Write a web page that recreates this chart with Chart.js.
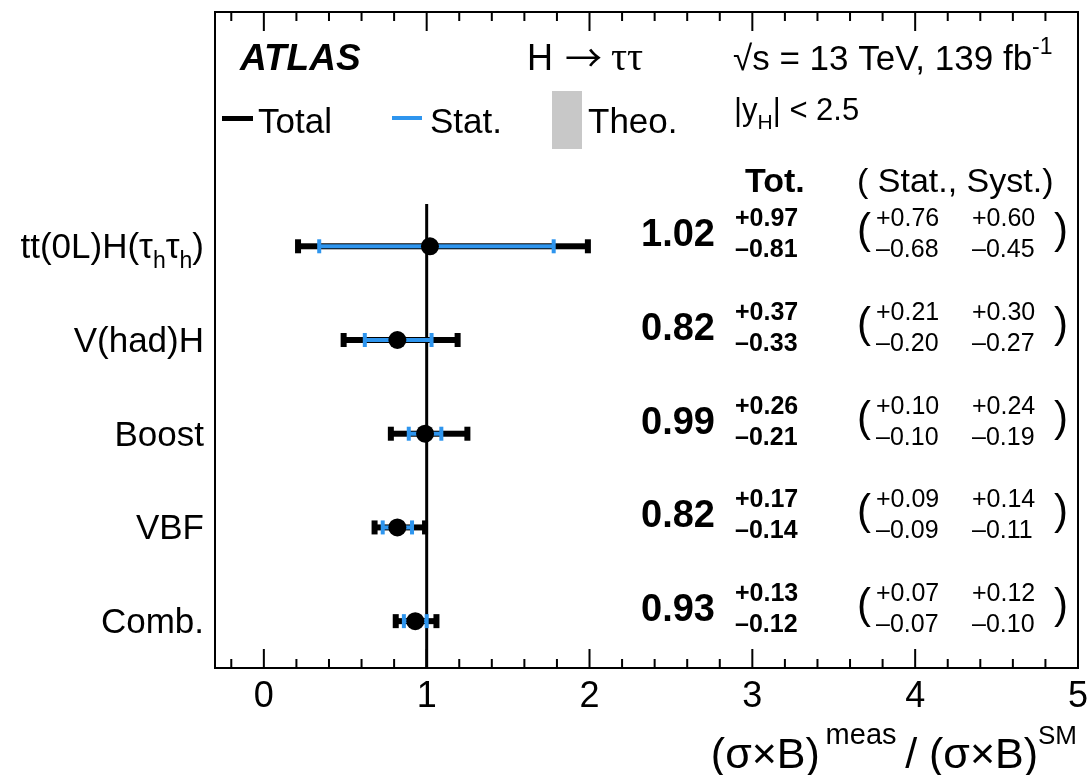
<!DOCTYPE html>
<html>
<head>
<meta charset="utf-8">
<script src="https://cdn.jsdelivr.net/npm/chart.js@4.4.1/dist/chart.umd.min.js"></script>
<style>
  html, body { margin: 0; padding: 0; background: #fff; }
  #c { display: block; }
</style>
</head>
<body>
<canvas id="c" width="1089" height="775"></canvas>
<script>
// Data (top row first)
const categories = ['tt(0L)H(τhτh)', 'V(had)H', 'Boost', 'VBF', 'Comb.'];
const rowPos = [4.5, 3.5, 2.5, 1.5, 0.5];
const central = [1.02, 0.82, 0.99, 0.82, 0.93];
const totUp = [0.97, 0.37, 0.26, 0.17, 0.13];
const totDn = [0.81, 0.33, 0.21, 0.14, 0.12];
const statUp = [0.76, 0.21, 0.10, 0.09, 0.07];
const statDn = [0.68, 0.20, 0.10, 0.09, 0.07];
const systUp = [0.60, 0.30, 0.24, 0.14, 0.12];
const systDn = [0.45, 0.27, 0.19, 0.11, 0.10];
const xTicks = [0, 1, 2, 3, 4, 5];

const FONT = '"Liberation Sans", Arial, Helvetica, sans-serif';
const BLUE = '#2e95ee';

// text made of pieces: [text, mode, family, size] mode 0 normal, 1 subscript, 2 superscript
function rich(ctx, segs, x, y, size, align, style, supRaise) {
  style = style || '';
  const pieces = segs.map(s => {
    const mode = s[1] || 0;
    const sz = s[3] || (mode ? Math.round(size * 0.67) : size);
    const f = style + ' ' + sz + 'px ' + (s[2] || FONT);
    ctx.font = f;
    return { t: s[0], f: f, w: ctx.measureText(s[0]).width,
             dy: mode === 1 ? size * 0.28 : mode === 2 ? -size * (supRaise || 0.45) : 0 };
  });
  const total = pieces.reduce((a, p) => a + p.w, 0);
  let cx = align === 'right' ? x - total : align === 'center' ? x - total / 2 : x;
  ctx.textAlign = 'left';
  ctx.textBaseline = 'alphabetic';
  pieces.forEach(p => {
    ctx.font = p.f;
    ctx.fillText(p.t, cx, y + p.dy);
    cx += p.w;
  });
  return total;
}

function txt(ctx, s, x, y, font, align) {
  ctx.font = font;
  ctx.textAlign = align || 'left';
  ctx.textBaseline = 'alphabetic';
  ctx.fillText(s, x, y);
}

const atlasPlugin = {
  id: 'atlas',
  beforeDatasetsDraw(chart) {
    const ctx = chart.ctx;
    const xs = chart.scales.x, ys = chart.scales.y;
    ctx.save();
    // SM reference line
    ctx.strokeStyle = '#000';
    ctx.lineWidth = 3;
    ctx.beginPath();
    ctx.moveTo(xs.getPixelForValue(1), ys.getPixelForValue(0));
    ctx.lineTo(xs.getPixelForValue(1), ys.getPixelForValue(4.95));
    ctx.stroke();

    // error bars: total (black) then stat (blue)
    central.forEach((c, i) => {
      const y = ys.getPixelForValue(rowPos[i]);
      const bars = [
        { lo: c - totDn[i], hi: c + totUp[i], col: '#000', lw: 6, capW: 6, capH: 14 },
        { lo: c - statDn[i], hi: c + statUp[i], col: BLUE, lw: 4, capW: 4, capH: 14 }
      ];
      bars.forEach(b => {
        const x0 = xs.getPixelForValue(b.lo), x1 = xs.getPixelForValue(b.hi);
        ctx.fillStyle = b.col;
        ctx.fillRect(x0, y - b.lw / 2, x1 - x0, b.lw);
        ctx.fillRect(x0 - b.capW / 2, y - b.capH / 2, b.capW, b.capH);
        ctx.fillRect(x1 - b.capW / 2, y - b.capH / 2, b.capW, b.capH);
      });
    });
    ctx.restore();
  },
  afterDraw(chart) {
    const ctx = chart.ctx;
    const a = chart.chartArea;
    const xs = chart.scales.x, ys = chart.scales.y;
    ctx.save();
    ctx.fillStyle = '#000';
    ctx.strokeStyle = '#000';

    // frame
    ctx.lineWidth = 2;
    ctx.strokeRect(a.left, a.top, a.right - a.left, a.bottom - a.top);

    // inward ticks on top and bottom
    for (let k = -1; k <= 24; k++) {
      const v = k * 0.2;
      const px = xs.getPixelForValue(v);
      if (px <= a.left || px >= a.right) continue;
      const len = k % 5 === 0 ? 19 : 9;
      ctx.beginPath();
      ctx.moveTo(px, a.bottom);
      ctx.lineTo(px, a.bottom - len);
      ctx.moveTo(px, a.top);
      ctx.lineTo(px, a.top + len);
      ctx.stroke();
    }

    // header
    txt(ctx, 'ATLAS', 240, 70, 'italic bold 37px ' + FONT);
    txt(ctx, 'H', 527, 70, '36px ' + FONT);
    txt(ctx, '\u2192', 565, 72, '37px "Noto Sans CJK SC", "DejaVu Sans", sans-serif');
    txt(ctx, 'ττ', 611, 70, '40px "Liberation Serif", serif');
    rich(ctx, [['√s = 13 TeV, 139 fb', 0], ['-1', 2]], 733, 70, 35, 'left');

    // legend
    ctx.fillRect(222, 116, 31, 5);
    txt(ctx, 'Total', 258, 133, '35px ' + FONT);
    ctx.fillStyle = BLUE;
    ctx.fillRect(392, 116, 30, 4);
    ctx.fillStyle = '#c8c8c8';
    ctx.fillRect(552, 91, 30, 58);
    ctx.fillStyle = '#000';
    txt(ctx, 'Stat.', 430, 133, '35px ' + FONT);
    txt(ctx, 'Theo.', 588, 133, '35px ' + FONT);
    rich(ctx, [['|y', 0], ['H', 1], ['| < 2.5', 0]], 734, 120, 31, 'left');

    txt(ctx, 'Tot.', 745, 192, 'bold 34px ' + FONT);
    txt(ctx, '( Stat., Syst.)', 857, 192, '34px ' + FONT);

    // category labels
    categories.forEach((name, i) => {
      const y = ys.getPixelForValue(rowPos[i]) + 12;
      if (name.indexOf('τ') >= 0) {
        rich(ctx, [['tt(0L)H(τ', 0], ['h', 1], ['τ', 0], ['h', 1], [')', 0]], 204, y, 35, 'right');
      } else {
        txt(ctx, name, 204, y, '35px ' + FONT, 'right');
      }
    });

    // numbers
    central.forEach((c, i) => {
      const y = ys.getPixelForValue(rowPos[i]);
      txt(ctx, c.toFixed(2), 641, y, 'bold 38px ' + FONT);
      txt(ctx, '+' + totUp[i].toFixed(2), 735, y - 20, 'bold 25px ' + FONT);
      txt(ctx, '\u2013' + totDn[i].toFixed(2), 735, y + 11, 'bold 25px ' + FONT);
      txt(ctx, '(', 857, y - 3, '42px ' + FONT);
      txt(ctx, '+' + statUp[i].toFixed(2), 876, y - 20, '25px ' + FONT);
      txt(ctx, '\u2013' + statDn[i].toFixed(2), 876, y + 11, '25px ' + FONT);
      txt(ctx, '+' + systUp[i].toFixed(2), 972, y - 20, '25px ' + FONT);
      txt(ctx, '\u2013' + systDn[i].toFixed(2), 972, y + 11, '25px ' + FONT);
      txt(ctx, ')', 1054, y - 3, '42px ' + FONT);
    });

    // x axis title
    rich(ctx, [['(σ×B)', 0], ['\u2009meas', 2, null, 29], ['\u2009/ (σ×B)', 0], ['SM', 2, null, 26]],
         1077, 768, 43, 'right', '', 0.56);
    ctx.restore();
  }
};

new Chart(document.getElementById('c'), {
  type: 'scatter',
  data: {
    datasets: [{
      data: central.map((c, i) => ({ x: c, y: rowPos[i] })),
      backgroundColor: '#000',
      borderWidth: 0,
      pointRadius: 9,
      pointHoverRadius: 9
    }]
  },
  options: {
    responsive: false,
    devicePixelRatio: 1,
    animation: false,
    layout: { padding: { top: 12, right: 11, left: 0, bottom: 0 } },
    plugins: { legend: { display: false }, tooltip: { enabled: false } },
    scales: {
      x: {
        type: 'linear',
        min: -0.3,
        max: 5,
        grid: { display: false, drawTicks: false },
        border: { display: false },
        ticks: { color: '#000', font: { family: FONT, size: 36 }, padding: 7, maxRotation: 0 },
        afterBuildTicks: s => { s.ticks = xTicks.map(v => ({ value: v })); },
        afterFit: s => { s.height = 107; s.paddingLeft = 0; s.paddingRight = 0; }
      },
      y: {
        type: 'linear',
        min: 0,
        max: 7,
        grid: { display: false, drawTicks: false },
        border: { display: false },
        ticks: { display: false },
        afterFit: s => { s.width = 215; }
      }
    }
  },
  plugins: [atlasPlugin]
});
</script>
</body>
</html>
